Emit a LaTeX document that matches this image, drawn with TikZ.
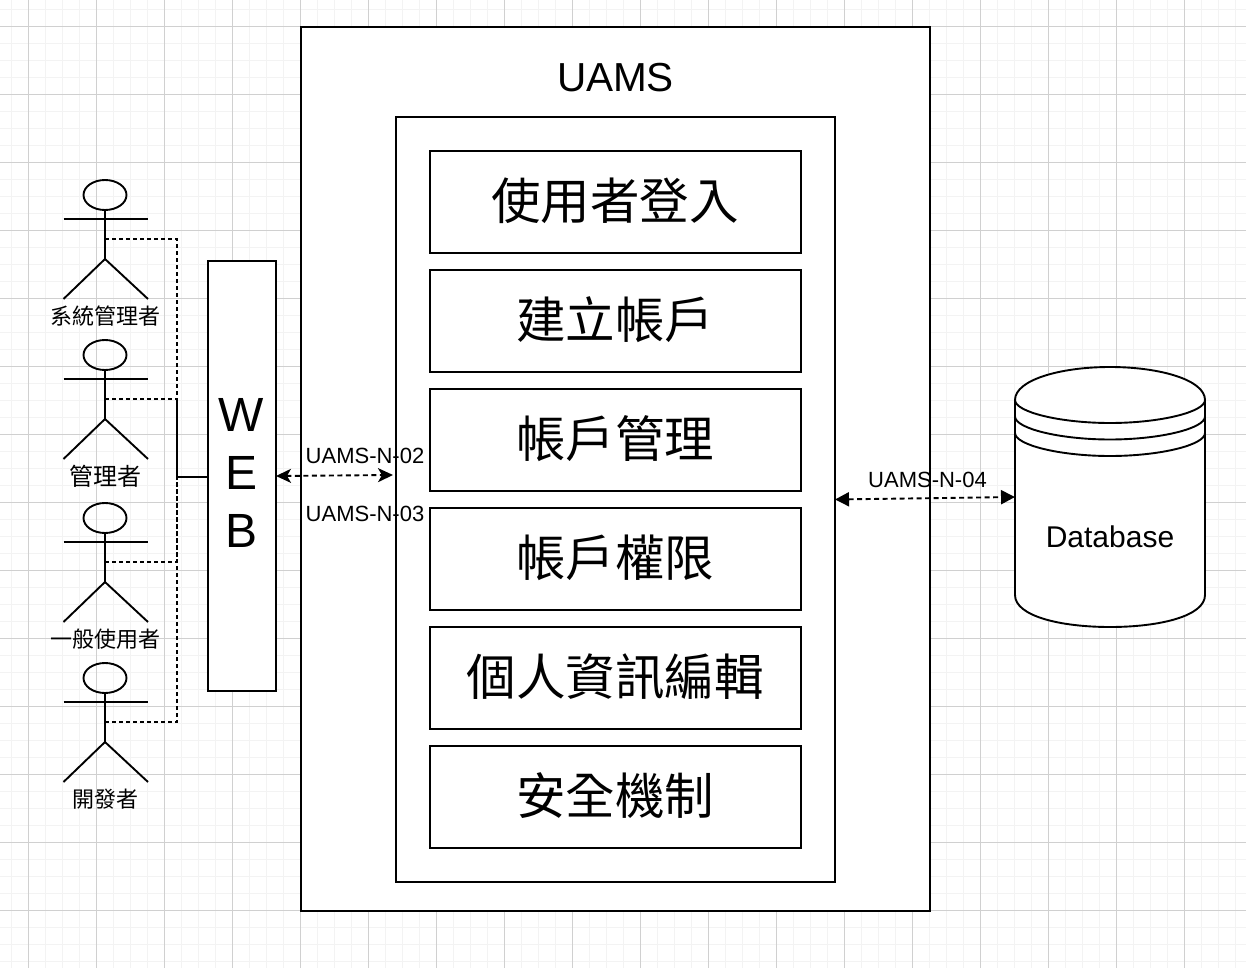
\documentclass[tikz,border=0pt]{standalone}
\usepackage{fontspec}
\setmainfont{Liberation Sans}
\newfontfamily\cjk{Noto Sans CJK TC}
\usepackage{xcolor}
\usepackage{tikz}
\usetikzlibrary{arrows.meta,positioning,calc,shapes.geometric}
\definecolor{gridmajor}{RGB}{208,208,208}
\definecolor{gridminor}{RGB}{243,243,243}
\newcommand{\fs}[1]{\fontsize{#1}{\dimexpr #1pt*12/10\relax}\selectfont}

\begin{document}
\begin{tikzpicture}[
  x=1pt, y=-1pt,
  line width=1.9pt,
  box/.style={draw, fill=white, rectangle, inner sep=0pt, outer sep=0pt, align=center},
  func/.style={box, minimum width=371, minimum height=102},
  functext/.style={inner sep=0pt, font=\fs{49.5}\cjk},
  lbl/.style={inner sep=0pt, font=\fs{22}},
  ar/.style={{Stealth[length=15pt,width=14pt,inset=4pt]}-{Stealth[length=15pt,width=14pt,inset=4pt]}, dash pattern=on 5pt off 3.5pt},
  dbar/.style={{Stealth[length=14pt,width=14pt,inset=0pt]}-{Stealth[length=14pt,width=14pt,inset=0pt]}, dash pattern=on 5pt off 3.5pt},
  link/.style={dash pattern=on 4pt off 3pt}
]
\useasboundingbox (0,0) rectangle (1246,968);
% ---- grid -------------------------------------------------------------------
\fill[white] (0,0) rectangle (1246,968);
\foreach \gx in {0,...,73} \draw[gridminor, line width=1.3pt] ({11.5+17*\gx},0) -- ({11.5+17*\gx},968);
\foreach \gy in {0,...,56} \draw[gridminor, line width=1.3pt] (0,{9.5+17*\gy}) -- (1246,{9.5+17*\gy});
\foreach \gx in {0,...,18} \draw[gridmajor, line width=1pt] ({28.5+68*\gx},0) -- ({28.5+68*\gx},968);
\foreach \gy in {0,...,14} \draw[gridmajor, line width=1pt] (0,{26.5+68*\gy}) -- (1246,{26.5+68*\gy});

% ---- boxes ------------------------------------------------------------------
\node[box, minimum width=629, minimum height=884] (uams) at (615.5,469) {};
\node[inner sep=0pt, font=\fs{40.5}] (title) at (615.5,78) {UAMS};
\node[box, minimum width=439, minimum height=765] (core) at (615.5,499.5) {};

\foreach \id/\fy/\what in {login/202/使用者登入, create/321/建立帳戶, manage/440/帳戶管理,
    perm/559/帳戶權限, edit/678/個人資訊編輯, secure/797/安全機制} {
  \node[func] (\id) at (615.5,\fy) {};
  \node[functext] (\id text) at (615,\fy-1) {\what};
}

\node[box, minimum width=68, minimum height=430] (web) at (242,476) {};
\node[inner sep=0pt, align=center, font=\fs{48}] (webtext) at (241.5,473) {W\\E\\B};

% ---- actors -----------------------------------------------------------------
\foreach \id/\ay/\who/\sz in {sys/180/系統管理者/22, adm/340/管理者/24, usr/503/一般使用者/22, dev/663/開發者/22} {
  \node[draw, ellipse, inner sep=0pt, minimum width=43, minimum height=30] (head\id) at (105,{\ay+15}) {};
  \coordinate (hip\id) at (105,{\ay+79});
  \coordinate (waist\id) at (105,{\ay+59});
  \draw (head\id.south) -- (hip\id);
  \draw (63.5,{\ay+39}) -- (148,{\ay+39});
  \draw (63.5,{\ay+119}) -- (hip\id) -- (148,{\ay+119});
  \node[inner sep=0pt, font=\fs{\sz}\cjk] (name\id) at (105,{\ay+136}) {\who};
}

% ---- database ---------------------------------------------------------------
\node[minimum width=190, minimum height=260, inner sep=0pt, outer sep=0pt] (db) at (1110,497) {};
\draw[fill=white] (db.north west) ++(0,33)
  .. controls +(0,-20) and +(-50,0) .. (db.north)
  .. controls +(50,0) and +(0,-20) .. ($(db.north east)+(0,33)$)
  -- ($(db.south east)+(0,-32)$)
  .. controls +(0,21) and +(50,0) .. (db.south)
  .. controls +(-50,0) and +(0,21) .. ($(db.south west)+(0,-32)$) -- cycle;
\foreach \dy in {33,49.5,66} {
  \draw ($(db.north west)+(0,\dy)$) .. controls +(0,12) and +(-50,0) .. ($(db.north)+(0,\dy+23)$)
    .. controls +(50,0) and +(0,12) .. ($(db.north east)+(0,\dy)$);
}
\node[inner sep=0pt, font=\fs{30}] (dbtext) at (1110,537) {Database};

% ---- edges ------------------------------------------------------------------
\coordinate (bus) at (177,477);
\coordinate (tipcore) at (393,475);
\foreach \id in {sys,adm,usr,dev} \draw[link] (waist\id) -| (bus);
\draw (177,399) -- (bus) -- (web.west |- bus);
\draw[ar] (web.east) -- (tipcore);
\draw[dbar] (core.east) -- (db.west);

% ---- labels -----------------------------------------------------------------
\node[lbl] (n02) at (365,455.5) {UAMS-N-02};
\node[lbl] (n03) at (365,513.5) {UAMS-N-03};
\node[lbl] (n04) at (927.5,479.5) {UAMS-N-04};
\end{tikzpicture}
\end{document}
